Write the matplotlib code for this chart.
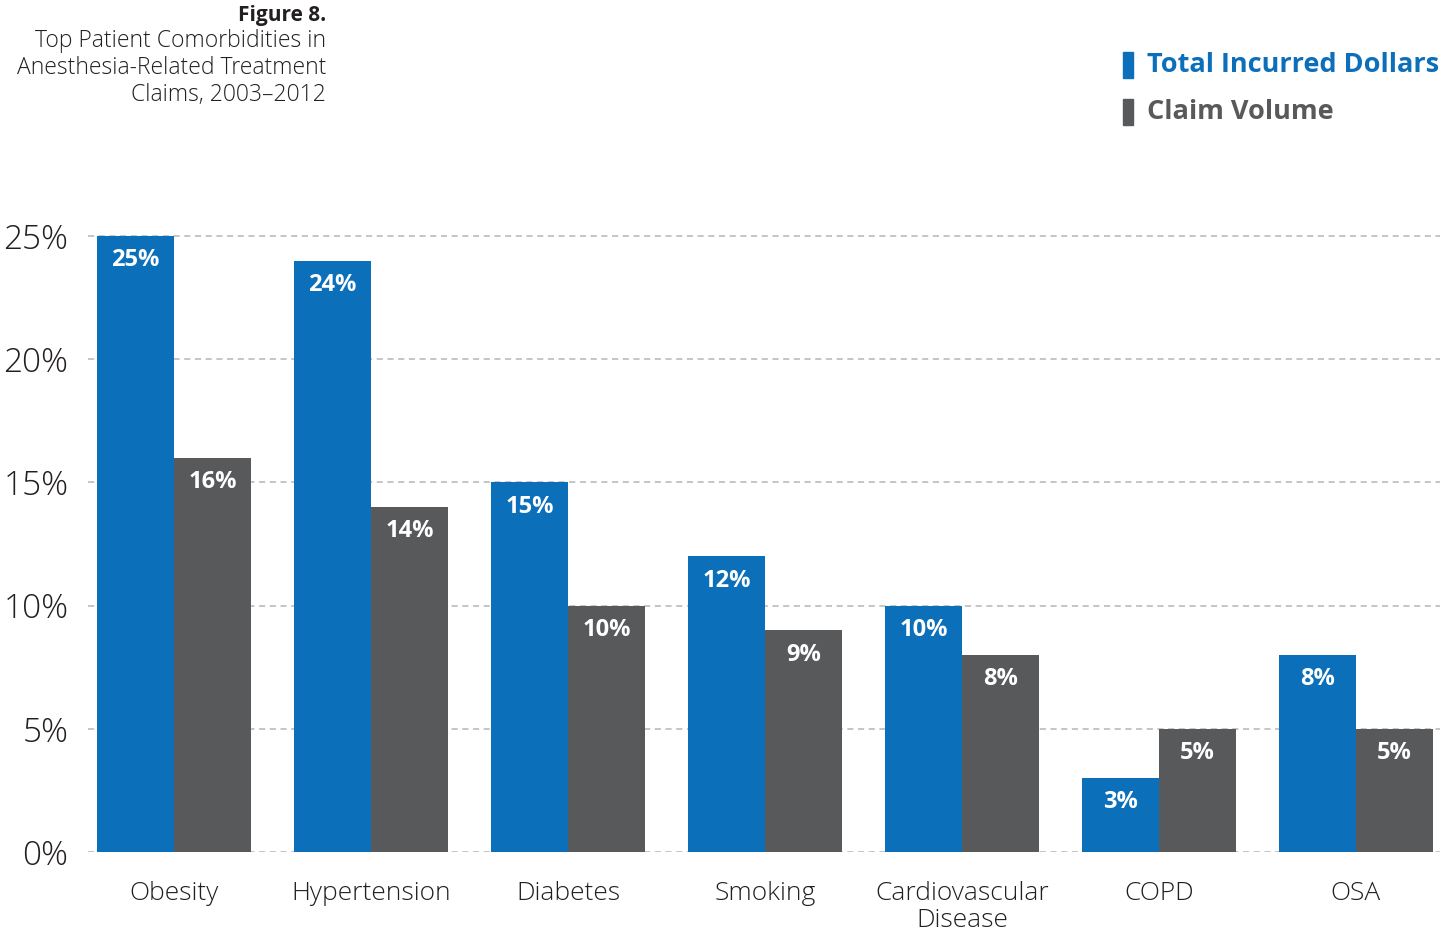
import matplotlib
matplotlib.use("Agg")
import matplotlib.pyplot as plt
import numpy as np

categories = ["Obesity", "Hypertension", "Diabetes", "Smoking",
              "Cardiovascular\nDisease", "COPD", "OSA"]
total_dollars = [25, 24, 15, 12, 10, 3, 8]
claim_volume = [16, 14, 10, 9, 8, 5, 5]
yticks = [0, 5, 10, 15, 20, 25]

BLUE = "#0c6fba"
GRAY = "#58595b"
TEXT = "#231f20"
FONT = ["Open Sans", "DejaVu Sans"]
plt.rcParams["font.family"] = FONT

W, H = 1456, 932
fig = plt.figure(figsize=(W / 100, H / 100), dpi=100)

x0, x1 = 88, 1440
y_bottom = 852
ppu = (852 - 236) / 25.0
ytop_val = 25.3
y_top_px = 852 - ytop_val * ppu
ax = fig.add_axes([x0 / W, (H - y_bottom) / H, (x1 - x0) / W, (y_bottom - y_top_px) / H])

spacing = 197.0
c0 = 174.0
ax.set_xlim((x0 - c0) / spacing, (x1 - c0) / spacing)
ax.set_ylim(0, ytop_val)

x = np.arange(len(categories))
bw = 77 / spacing
b1 = ax.bar(x - bw / 2, total_dollars, bw, color=BLUE, zorder=3)
b2 = ax.bar(x + bw / 2, claim_volume, bw, color=GRAY, zorder=3)

for bars, vals in ((b1, total_dollars), (b2, claim_volume)):
    for rect, v in zip(bars, vals):
        ax.annotate(f"{v}%", (rect.get_x() + rect.get_width() / 2, v),
                    xytext=(0, -17.5), textcoords="offset points",
                    ha="center", va="center", color="white",
                    fontsize=17, fontweight="bold", zorder=4)

for t in yticks:
    ax.axhline(t, color="#b5b5b5", lw=1.1, ls=(0, (4, 3)), zorder=1)

ax.set_yticks(yticks)
ax.set_yticklabels([f"{t}%" for t in yticks], fontsize=24, color=TEXT, fontweight="light")
ax.tick_params(axis="y", length=0, pad=14)
ax.set_xticks(x)
ax.set_xticklabels(categories, fontsize=19, color=TEXT, linespacing=1.08, fontweight="light")
ax.tick_params(axis="x", length=0, pad=21)
for s in ax.spines.values():
    s.set_visible(False)

# Title block
fig.text(326 / W, 1 - 15 / H, "Figure 8.", ha="right", va="center",
         fontsize=15, fontweight="bold", color=TEXT)
for i, line in enumerate(["Top Patient Comorbidities in",
                          "Anesthesia-Related Treatment",
                          "Claims, 2003\u20132012"]):
    fig.text(326 / W, 1 - (41 + 27 * i) / H, line, ha="right", va="center",
             fontsize=16.5, color=TEXT, fontweight="light")

# Legend
for yc, label, col in ((65, "Total Incurred Dollars", BLUE), (112, "Claim Volume", GRAY)):
    fig.patches.append(plt.Rectangle((1123 / W, 1 - (yc + 13) / H), 10 / W, 26 / H,
                                     transform=fig.transFigure, color=col))
    fig.text(1147 / W, 1 - yc / H, label, ha="left", va="center",
             fontsize=19.5, fontweight="bold", color=col)

fig.savefig("out.png", dpi=100)
